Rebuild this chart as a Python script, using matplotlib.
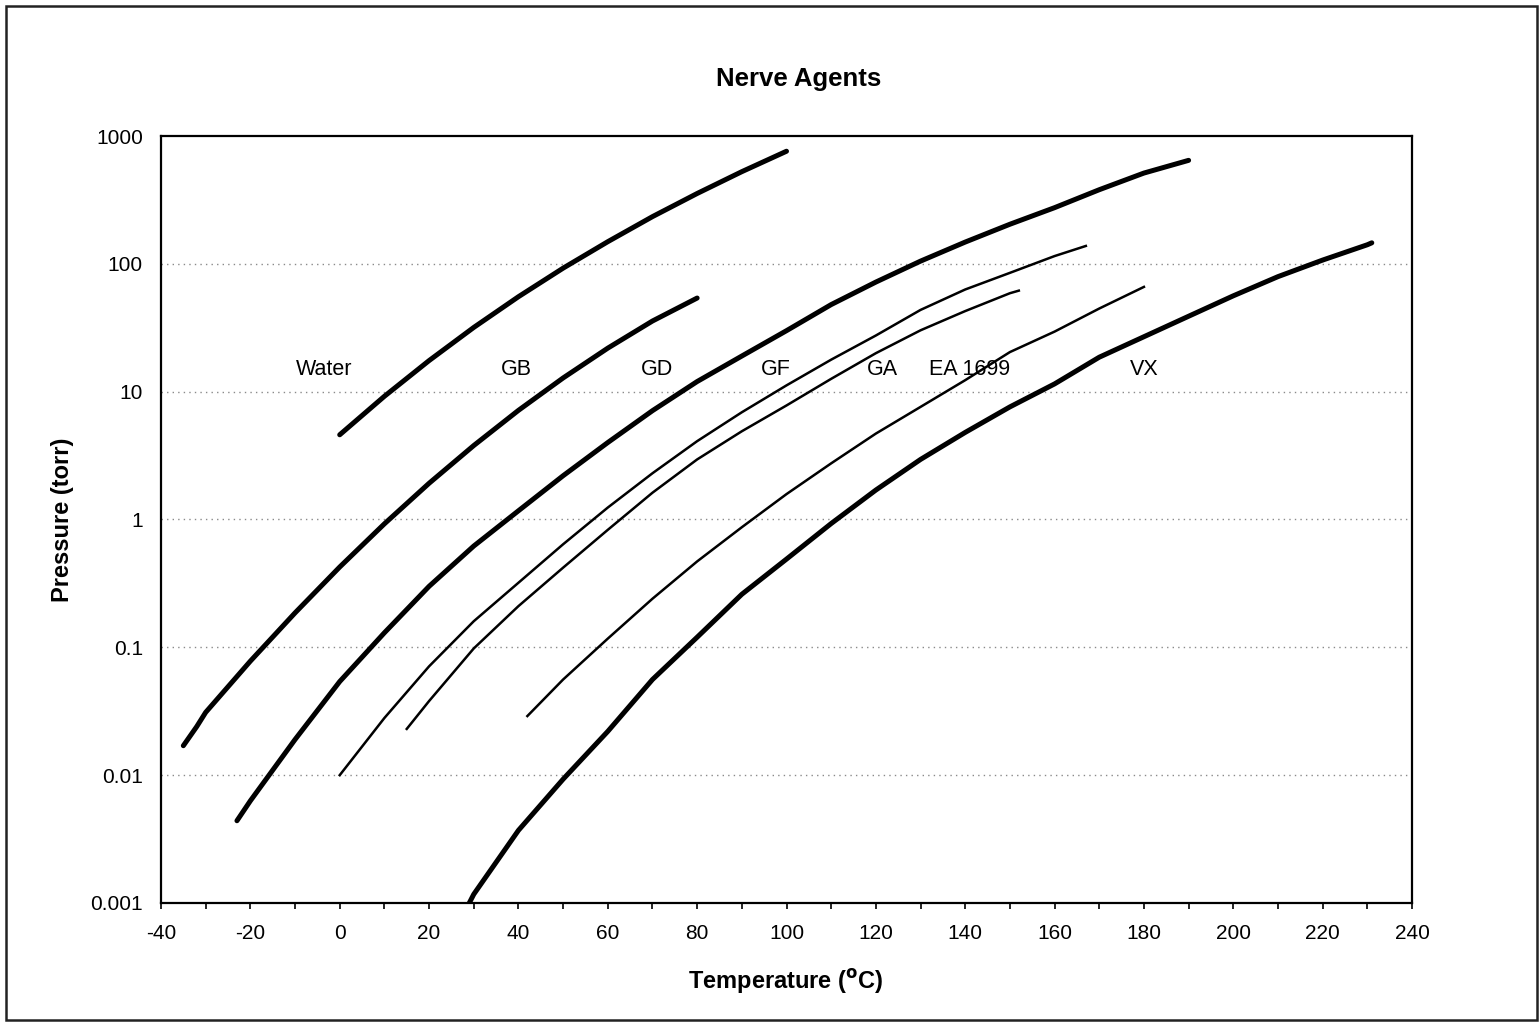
import numpy as np
import matplotlib.pyplot as plt
from matplotlib.patches import Rectangle
from matplotlib.ticker import FixedLocator, NullFormatter

plt.rcParams['font.family'] = ['Liberation Sans', 'DejaVu Sans']
plt.rcParams['axes.unicode_minus'] = False

# vapour pressure curves (temperature in C, pressure in torr)
water_t = [0, 10, 20, 30, 40, 50, 60, 70, 80, 90, 100]
water_p = [4.6, 9.2, 17.5, 31.8, 55.3, 92.5, 149, 234, 355, 526, 760]

gb_t = [-35, -32, -30, -20, -10, 0, 10, 20, 30, 40, 50, 60, 70, 80]
gb_p = [0.017, 0.024, 0.031, 0.078, 0.186, 0.425, 0.925, 1.92, 3.79, 7.14,
        12.8, 21.9, 35.7, 54]

gd_t = [-23, -20, -10, 0, 10, 20, 30, 40, 50, 60, 70, 80, 90, 100,
        110, 120, 130, 140, 150, 160, 170, 180, 190]
gd_p = [0.0044, 0.0063, 0.019, 0.054, 0.13, 0.30, 0.62, 1.17, 2.2, 4.0, 7.1,
        12.0, 19, 30, 48, 72, 105, 148, 204, 275, 380, 513, 645]

gf_t = [0, 10, 20, 30, 40, 50, 60, 70, 80, 90, 100, 110, 120, 130, 140, 150, 160, 167]
gf_p = [0.010, 0.028, 0.071, 0.16, 0.32, 0.64, 1.24, 2.3, 4.1, 6.9, 11.2,
        17.8, 27.5, 43.6, 63, 85, 115, 138]

ga_t = [15, 20, 30, 40, 50, 60, 70, 80, 90, 100, 110, 120, 130, 140, 150, 152]
ga_p = [0.023, 0.038, 0.098, 0.21, 0.42, 0.83, 1.62, 2.95, 4.9, 7.8, 12.6,
        20.0, 30.2, 42.7, 58.9, 61.7]

ea_t = [42, 50, 60, 70, 80, 90, 100, 110, 120, 130, 140, 150, 160, 170, 180]
ea_p = [0.029, 0.056, 0.117, 0.24, 0.47, 0.87, 1.58, 2.75, 4.7, 7.6, 12.3,
        20.4, 29.5, 44.7, 66]

vx_t = [29, 30, 40, 50, 60, 70, 80, 90, 100, 110, 120, 130, 140, 150,
        160, 170, 180, 190, 200, 210, 220, 230, 231]
vx_p = [0.001, 0.00117, 0.0037, 0.0093, 0.022, 0.056, 0.12, 0.26, 0.49, 0.93,
        1.7, 2.95, 4.8, 7.6, 11.5, 18.6, 26.9, 38.9, 56.2, 79.4, 107, 141, 146]

label_names = ['Water', 'GB', 'GD', 'GF', 'GA', 'EA 1699', 'VX']
label_x = [-3.5, 39.5, 71, 97.5, 121.5, 141, 180]
label_y = 15

y_ticks = [0.001, 0.01, 0.1, 1, 10, 100, 1000]
y_ticklabels = ['0.001', '0.01', '0.1', '1', '10', '100', '1000']

fig = plt.figure(figsize=(15.39, 10.22), dpi=100)
ax = fig.add_axes([161 / 1539, 1 - 903 / 1022, 1251 / 1539, 767 / 1022])

thick = 3.6
thin = 1.8
ax.plot(water_t, water_p, color='black', lw=thick, solid_capstyle='round', solid_joinstyle='round')
ax.plot(gb_t, gb_p, color='black', lw=thick, solid_capstyle='round', solid_joinstyle='round')
ax.plot(gd_t, gd_p, color='black', lw=thick, solid_capstyle='round', solid_joinstyle='round')
ax.plot(gf_t, gf_p, color='black', lw=thin)
ax.plot(ga_t, ga_p, color='black', lw=thin)
ax.plot(ea_t, ea_p, color='black', lw=thin)
ax.plot(vx_t, vx_p, color='black', lw=thick, solid_capstyle='round', solid_joinstyle='round')

ax.set_yscale('log')
ax.set_xlim(-40, 240)
ax.set_ylim(0.001, 1000)

for g in y_ticks[1:-1]:
    ax.axhline(g, color='#8a8a8a', lw=1.0, ls=(0, (1, 3)), zorder=0)

ax.set_yticks(y_ticks)
ax.set_yticklabels(y_ticklabels)
ax.yaxis.set_minor_locator(FixedLocator([]))
ax.yaxis.set_minor_formatter(NullFormatter())
ax.tick_params(axis='y', length=0, pad=13, labelsize=15)

ax.set_xticks(np.arange(-40, 241, 20))
ax.xaxis.set_minor_locator(FixedLocator(np.arange(-30, 240, 20)))
ax.tick_params(axis='x', which='both', direction='out', length=4, width=1.2,
               pad=11, labelsize=15)

for s in ax.spines.values():
    s.set_linewidth(1.6)

for name, x in zip(label_names, label_x):
    ax.text(x, label_y, name, ha='center', va='center', fontsize=15.5)

fig.text(799 / 1539, 1 - 79 / 1022, 'Nerve Agents', ha='center', va='center',
         fontsize=18.5, fontweight='bold')
fig.text(62 / 1539, 1 - 520 / 1022, 'Pressure (torr)', ha='center', va='center',
         rotation=90, fontsize=17, fontweight='bold')
fig.text(786 / 1539, 1 - 981 / 1022, r'Temperature ($\mathbf{^{o}}$C)', ha='center',
         va='center', fontsize=17, fontweight='bold')

fig.patches.append(Rectangle((6 / 1539, 2 / 1022), 1531 / 1539, 1014 / 1022,
                             transform=fig.transFigure, fill=False,
                             edgecolor='#222222', lw=1.8))

fig.savefig('out.png', dpi=100)
